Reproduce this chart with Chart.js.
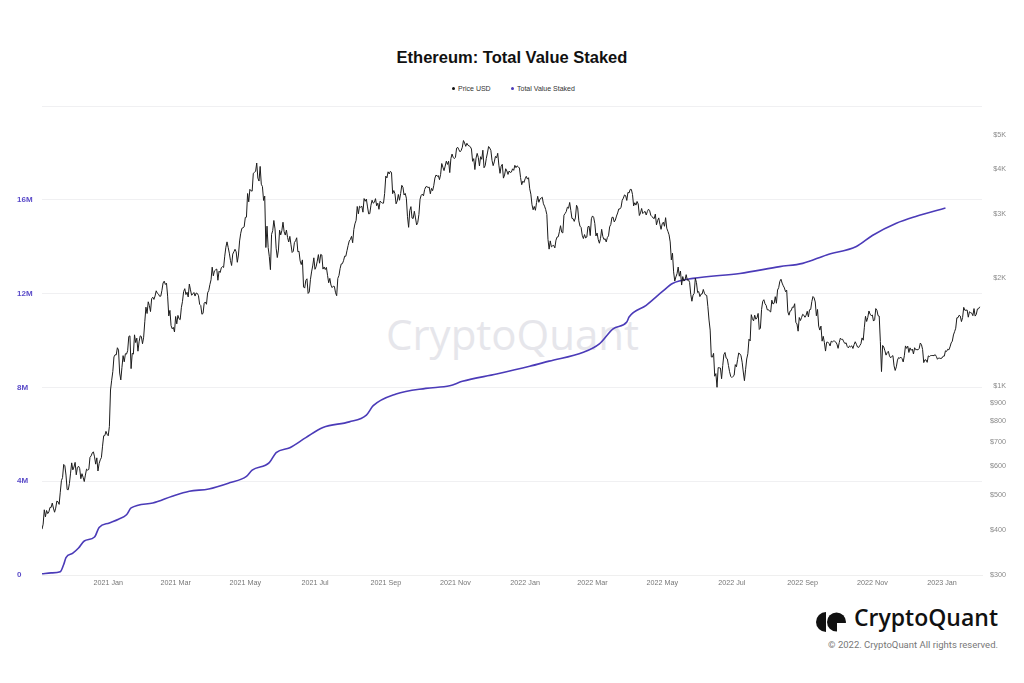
<!DOCTYPE html>
<html>
<head>
<meta charset="utf-8">
<script src="https://cdn.jsdelivr.net/npm/chart.js@4.4.1/dist/chart.umd.min.js"></script>
<style>
html,body{margin:0;padding:0;background:#fff;}
#wrap{position:relative;width:1024px;height:683px;overflow:hidden;font-family:"Liberation Sans",Arial,sans-serif;}
#chart{position:absolute;left:0;top:0;z-index:2;}
#title{position:absolute;left:0;top:47px;width:1024px;text-align:center;font-weight:bold;font-size:16.5px;line-height:20px;color:#111;}
.leg{position:absolute;top:84px;font-size:7px;line-height:10px;color:#333;white-space:nowrap;}
.leg i{display:inline-block;width:3px;height:3px;border-radius:50%;margin-right:3px;vertical-align:middle;position:relative;top:-1px;}
#wm{position:absolute;left:386px;top:306px;font-family:"Open Sans",sans-serif;font-weight:500;font-size:42px;line-height:56px;color:#e6e6eb;z-index:1;white-space:nowrap;}
#logo{position:absolute;right:26px;top:602px;font-family:"Open Sans",sans-serif;font-weight:600;font-size:23px;line-height:30px;color:#111;white-space:nowrap;}
#logoIcon{position:absolute;left:814px;top:611px;}
#copy{position:absolute;right:26px;top:639px;font-family:Roboto,sans-serif;font-size:9.5px;line-height:11px;color:#777;white-space:nowrap;}
</style>
</head>
<body>
<div id="wrap">
  <div id="wm">CryptoQuant</div>
  <canvas id="chart" width="1024" height="683"></canvas>
  <div id="title">Ethereum: Total Value Staked</div>
  <div class="leg" style="left:452px"><i style="background:#111"></i>Price USD</div>
  <div class="leg" style="left:511px"><i style="background:#4b3bb8"></i>Total Value Staked</div>
  <svg id="logoIcon" width="32" height="22" viewBox="0 0 32 22">
    <path d="M12 1 A10 10 0 0 0 12 21 Z" fill="#111"/>
    <circle cx="22.5" cy="11" r="9.5" fill="#111"/>
    <rect x="23" y="12" width="10" height="10" fill="#fff"/>
  </svg>
  <div id="logo">CryptoQuant</div>
  <div id="copy">© 2022. CryptoQuant All rights reserved.</div>
</div>
<script>
// ---------- DATA ----------
const priceStart = '2020-11-04';
// Daily ETH close (USD), 2020-11-04 .. 2023-02-03
const priceUSD = [
 // 2020 Nov 4-30
 402,415,455,435,453,444,449,462,462,475,460,448,460,481,479,471,509,548,559,608,603,568,518,517,538,575,614,
 // 2020 Dec
 587,598,616,569,596,601,592,555,573,560,545,568,590,586,589,636,642,654,659,638,609,634,583,611,626,635,683,730,731,751,737,
 // 2021 Jan
 730,775,978,1041,1100,1208,1225,1224,1281,1262,1090,1043,1130,1218,1171,1233,1230,1257,1377,1382,1121,1236,1230,1391,1324,1362,1253,1330,1382,1376,1314,
 // 2021 Feb
 1370,1512,1660,1594,1718,1677,1614,1752,1769,1744,1783,1843,1814,1804,1779,1781,1848,1937,1960,1919,1935,1781,1570,1626,1475,1446,1459,1417,
 // 2021 Mar
 1564,1492,1575,1541,1533,1654,1723,1834,1868,1799,1826,1772,1924,1854,1791,1806,1823,1782,1817,1812,1787,1691,1678,1587,1595,1702,1716,1691,1819,1846,1918,
 // 2021 Apr
 1977,2143,2028,2093,2107,2118,1971,2089,2072,2135,2151,2139,2299,2435,2519,2431,2344,2237,2166,2330,2364,2403,2364,2211,2316,2534,2662,2747,2757,2773,
 // 2021 May
 2945,2949,3431,3253,3523,3490,3484,3903,3928,3952,4168,3785,3715,4079,3640,3587,3282,3374,2430,2785,2430,2296,2109,2643,2706,2888,2736,2419,2279,2390,2714,
 // 2021 Jun
 2634,2707,2856,2688,2631,2716,2590,2517,2609,2472,2354,2372,2508,2537,2586,2365,2373,2231,2179,2245,1889,1875,1971,1990,1812,1829,1978,2079,2160,2275,
 // 2021 Jul
 2114,2150,2227,2322,2198,2325,2316,2117,2146,2111,2140,2035,1940,1995,1912,1881,1898,1895,1820,1786,1995,2032,2124,2188,2191,2233,2300,2298,2380,2460,2534,
 // 2021 Aug
 2558,2609,2505,2725,2827,2890,3158,3013,3163,3142,3164,3045,3322,3265,3311,3149,3012,3018,3183,3287,3226,3242,3320,3173,3225,3102,3268,3245,3227,3225,3433,
 // 2021 Sep
 3834,3790,3941,3887,3952,3927,3427,3497,3427,3212,3270,3410,3286,3429,3615,3571,3398,3433,3330,2958,2764,3077,3155,2932,2926,3063,2935,2807,2853,3001,
 // 2021 Oct
 3307,3391,3418,3380,3518,3580,3587,3563,3575,3425,3545,3493,3606,3786,3862,3830,3847,3748,3877,4155,4057,3971,4087,4218,4131,4217,3921,4288,4414,4324,4288,
 // 2021 Nov
 4324,4584,4607,4537,4477,4518,4610,4812,4735,4637,4730,4667,4649,4626,4558,4215,4287,3998,4300,4433,4320,4090,4340,4269,4524,4044,4096,4294,4445,4632,
 // 2021 Dec
 4587,4519,4241,4099,4198,4348,4309,4436,4112,3903,4084,4134,3785,3862,4019,3962,3875,3961,3924,3935,4017,3978,4108,4047,4093,4068,4037,3798,3629,3713,3682,
 // 2022 Jan
 3769,3829,3762,3795,3537,3416,3194,3092,3158,3082,3239,3370,3243,3310,3331,3350,3213,3164,3096,3000,2560,2405,2535,2440,2456,2464,2424,2547,2598,2603,2688,
 // 2022 Feb
 2793,2680,2667,2987,3020,3057,3144,3123,3240,3080,2926,2921,2871,2935,3183,3131,2881,2786,2762,2628,2573,2639,2583,2598,2775,2782,2622,2920,
 // 2022 Mar
 2973,2946,2835,2616,2666,2556,2497,2575,2729,2608,2557,2570,2518,2590,2618,2773,2815,2945,2949,2861,2896,2971,3030,3108,3109,3143,3287,3331,3400,3385,3282,
 // 2022 Apr
 3455,3444,3522,3521,3411,3170,3234,3186,3261,3209,2981,3031,3118,3019,3042,3061,2991,3057,3103,3077,2986,2964,2935,2922,3008,2808,2889,2936,2817,2729,
 // 2022 May
 2827,2857,2783,2940,2749,2695,2636,2518,2245,2343,2080,1961,2014,2056,2145,2023,2090,1912,2018,1961,1975,2043,1972,1978,1945,1802,1724,1793,1813,1997,1942,
 // 2022 Jun
 1823,1834,1776,1804,1806,1859,1813,1793,1789,1665,1529,1434,1208,1207,1236,1068,1086,995,1128,1127,1125,1051,1143,1226,1243,1199,1193,1144,1099,1067,
 // 2022 Jul
 1059,1067,1074,1150,1134,1187,1239,1232,1217,1168,1097,1038,1113,1192,1233,1353,1338,1582,1542,1521,1577,1537,1551,1595,1440,1451,1636,1723,1741,1697,1680,
 // 2022 Aug
 1632,1634,1618,1610,1736,1694,1702,1775,1702,1852,1880,1958,1984,1936,1903,1877,1832,1850,1611,1577,1620,1625,1661,1658,1697,1507,1491,1424,1554,1524,1553,
 // 2022 Sep
 1586,1577,1556,1577,1617,1560,1633,1636,1720,1777,1762,1716,1571,1636,1471,1434,1471,1336,1378,1324,1254,1327,1328,1317,1296,1336,1330,1337,1336,1328,
 // 2022 Oct
 1311,1276,1324,1362,1351,1352,1330,1315,1322,1291,1280,1296,1288,1297,1275,1306,1331,1310,1287,1283,1299,1314,1364,1344,1460,1566,1515,1555,1620,1588,1572,
 // 2022 Nov
 1579,1519,1531,1645,1628,1572,1568,1333,1100,1300,1287,1256,1222,1242,1252,1216,1201,1212,1218,1141,1108,1134,1184,1203,1198,1206,1195,1170,1217,1296,
 // 2022 Dec
 1276,1294,1243,1280,1260,1270,1231,1281,1265,1266,1264,1275,1320,1307,1267,1165,1186,1185,1167,1216,1211,1218,1219,1219,1218,1226,1212,1190,1200,1198,1196,
 // 2023 Jan
 1200,1214,1214,1256,1251,1269,1264,1288,1321,1336,1390,1419,1451,1551,1552,1577,1568,1514,1553,1658,1627,1628,1630,1557,1612,1603,1598,1572,1645,1568,1585,
 // 2023 Feb 1-3
 1641,1643,1664
];

const stakedDates = [
 '2020-11-04','2020-11-12','2020-11-20','2020-11-23','2020-11-25','2020-12-01','2020-12-06','2020-12-11','2020-12-20','2020-12-24',
 '2021-01-02','2021-01-10','2021-01-17','2021-01-21','2021-02-09','2021-02-26','2021-03-13','2021-03-30','2021-04-17','2021-05-02',
 '2021-05-07','2021-05-22','2021-05-28','2021-06-09','2021-06-23','2021-07-08','2021-07-31','2021-08-15','2021-08-21','2021-09-10',
 '2021-10-06','2021-10-27','2021-11-07','2021-12-07','2022-01-05','2022-01-22','2022-02-21','2022-03-07','2022-03-19','2022-03-31',
 '2022-04-02','2022-04-17','2022-05-01','2022-05-10','2022-05-28','2022-07-08','2022-08-12','2022-09-01','2022-09-22','2022-10-18',
 '2022-11-01','2022-11-22','2022-12-09','2023-01-04'
];
// Total value staked (millions of ETH)
const stakedM = [
 0.05,0.09,0.14,0.45,0.74,0.93,1.15,1.45,1.62,2.03,
 2.22,2.38,2.57,2.86,3.07,3.36,3.57,3.67,3.93,4.21,
 4.47,4.79,5.22,5.43,5.86,6.29,6.53,6.82,7.22,7.72,
 7.96,8.07,8.26,8.57,8.90,9.12,9.50,9.86,10.50,10.79,
 11.00,11.50,12.08,12.43,12.65,12.86,13.15,13.29,13.65,14.01,
 14.48,15.00,15.29,15.65
];

const xTickDates  = ['2021-01-01','2021-03-01','2021-05-01','2021-07-01','2021-09-01','2021-11-01',
                     '2022-01-01','2022-03-01','2022-05-01','2022-07-01','2022-09-01','2022-11-01','2023-01-01'];
const xTickLabels = ['2021 Jan','2021 Mar','2021 May','2021 Jul','2021 Sep','2021 Nov',
                     '2022 Jan','2022 Mar','2022 May','2022 Jul','2022 Sep','2022 Nov','2023 Jan'];
const priceTickValues = [300,400,500,600,700,800,900,1000,2000,3000,4000,5000];
const priceTickLabels = ['$300','$400','$500','$600','$700','$800','$900','$1K','$2K','$3K','$4K','$5K'];
const stakedTickValues = [0,4e6,8e6,12e6,16e6,20e6];
const stakedTickLabels = ['0','4M','8M','12M','16M',''];

// ---------- BUILD ----------
const DAY = 86400000, ORIGIN = Date.parse('2021-01-01T00:00:00Z');
const dayOf = s => Math.round((Date.parse(s + 'T00:00:00Z') - ORIGIN) / DAY);
const p0 = dayOf(priceStart);
const pricePts = priceUSD.map((v, i) => ({x: p0 + i, y: v}));
const stakedPts = stakedDates.map((d, i) => ({x: dayOf(d), y: stakedM[i] * 1e6}));
const xTickDays = xTickDates.map(dayOf);

new Chart(document.getElementById('chart'), {
  type: 'line',
  data: {
    datasets: [
      {label: 'Price USD', data: pricePts, yAxisID: 'yPrice', borderColor: '#1c1c1c', borderWidth: 1,
       pointRadius: 0, tension: 0, order: 1},
      {label: 'Total Value Staked', data: stakedPts, yAxisID: 'yStaked', borderColor: '#4b3bb8', borderWidth: 1.6,
       pointRadius: 0, cubicInterpolationMode: 'monotone', order: 2}
    ]
  },
  options: {
    responsive: false, animation: false, devicePixelRatio: 1,
    layout: {padding: {top: 106, left: 17, right: 18, bottom: 0}},
    plugins: {legend: {display: false}, title: {display: false}, tooltip: {enabled: false}},
    scales: {
      x: {
        type: 'linear', min: dayOf('2020-11-04'), max: 765,
        afterBuildTicks: a => { a.ticks = xTickDays.map(v => ({value: v})); },
        afterFit: a => { a.height = 108; },
        ticks: {autoSkip: false, maxRotation: 0, padding: 4, color: '#777',
                font: {family: '"Liberation Sans", Arial, sans-serif', size: 7.2},
                callback: (v, i) => xTickLabels[i]},
        grid: {display: false, drawTicks: false},
        border: {display: true, color: '#efefef', width: 1}
      },
      yStaked: {
        position: 'left', min: 0, max: 20e6,
        afterBuildTicks: a => { a.ticks = stakedTickValues.map(v => ({value: v})); },
        afterFit: a => { a.width = 25; },
        ticks: {crossAlign: 'far', padding: 0, color: '#5b4cc9', autoSkip: false,
                font: {family: '"Liberation Sans", Arial, sans-serif', size: 8, weight: 'bold'},
                callback: (v, i) => stakedTickLabels[i]},
        grid: {color: '#f0f0f2', lineWidth: 1, drawTicks: false},
        border: {display: false}
      },
      yPrice: {
        type: 'logarithmic', position: 'right', min: 300, max: 6000,
        afterBuildTicks: a => { a.ticks = priceTickValues.map(v => ({value: v})); },
        afterFit: a => { a.width = 24; },
        ticks: {crossAlign: 'far', padding: 0, color: '#8a8a8a', autoSkip: false,
                font: {family: '"Liberation Sans", Arial, sans-serif', size: 7.2},
                callback: (v, i) => priceTickLabels[i]},
        grid: {display: false, drawTicks: false},
        border: {display: false}
      }
    }
  }
});
</script>
</body>
</html>
